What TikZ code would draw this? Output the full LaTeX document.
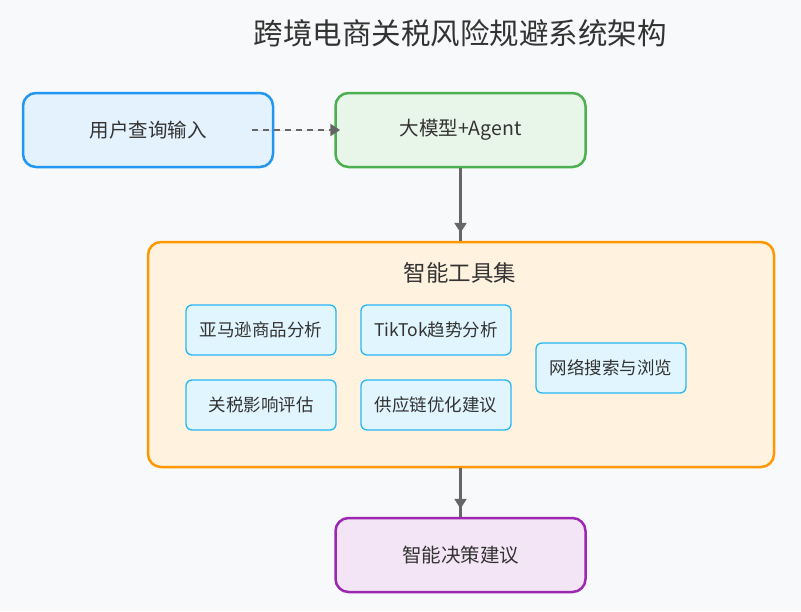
\documentclass[tikz,border=0pt]{standalone}
\usepackage{fontspec}
\setmainfont{Noto Sans CJK SC}
\usetikzlibrary{arrows.meta}
\definecolor{bgc}{HTML}{F8F9FA}
\definecolor{txt}{HTML}{333333}
\definecolor{lnc}{HTML}{666666}
\definecolor{blueB}{HTML}{2196F3}\definecolor{blueF}{HTML}{E3F2FD}
\definecolor{greenB}{HTML}{4CAF50}\definecolor{greenF}{HTML}{E8F5E9}
\definecolor{orangeB}{HTML}{FF9800}\definecolor{orangeF}{HTML}{FFF3E0}
\definecolor{purpleB}{HTML}{9C27B0}\definecolor{purpleF}{HTML}{F3E5F5}
\definecolor{toolB}{HTML}{29B6F6}\definecolor{toolF}{HTML}{E1F5FE}
\tikzset{
  mainbox/.style={draw, line width=2.5pt, rounded corners=13pt, minimum width=250pt,
    minimum height=74pt, inner sep=0pt, font=\fontsize{19.5}{22}\selectfont, text=txt},
  toolbox/.style={draw=toolB, fill=toolF, line width=1.3pt, rounded corners=6pt,
    minimum width=150pt, minimum height=50pt, inner sep=0pt,
    font=\fontsize{17.5}{20}\selectfont, text=txt},
  conn/.style={draw=lnc, line width=2.5pt},
  tip/.style={-{Triangle[length=10pt,width=12pt]}, draw=lnc, fill=lnc, line width=2.5pt}
}
\begin{document}
\begin{tikzpicture}[x=1pt,y=-1pt]
  % canvas
  \fill[bgc] (0,0) rectangle (801,611);
  \useasboundingbox (0,0) rectangle (801,611);

  % heading
  \node[text=txt, font=\fontsize{29.5}{32}\selectfont] (title) at (460,33) {跨境电商关税风险规避系统架构};

  % input and model
  \node[mainbox, draw=blueB, fill=blueF] (user) at (148,130) {用户查询输入};
  \node[mainbox, draw=greenB, fill=greenF] (llm) at (460.5,130) {大模型+Agent};

  % tool set container
  \node[draw=orangeB, fill=orangeF, line width=2.5pt, rounded corners=13pt,
        minimum width=626pt, minimum height=225pt, inner sep=0pt] (tools) at (461,354.5) {};
  \node[text=txt, font=\fontsize{22.5}{25}\selectfont] (toolstitle) at (460,273) {智能工具集};

  \node[toolbox] (amz) at (261,330) {亚马逊商品分析};
  \node[toolbox] (tt)  at (436,330) {TikTok趋势分析};
  \node[toolbox] (tax) at (261,405) {关税影响评估};
  \node[toolbox] (sc)  at (436,405) {供应链优化建议};
  \node[toolbox] (web) at (611,368) {网络搜索与浏览};

  % outcome
  \node[mainbox, draw=purpleB, fill=purpleF] (out) at (460.5,555) {智能决策建议};

  % connectors
  \draw[tip, dash pattern=on 6pt off 5pt] ([xshift=-22pt]user.east) -- ([xshift=6pt]llm.west);
  \draw[conn] (llm.south) -- (tools.north -| llm.south);
  \draw[tip, shorten >=8pt] (llm.south) -- (tools.north -| llm.south);
  \draw[conn] (tools.south -| out.north) -- (out.north);
  \draw[tip, shorten >=8pt] (tools.south -| out.north) -- (out.north);
\end{tikzpicture}
\end{document}
